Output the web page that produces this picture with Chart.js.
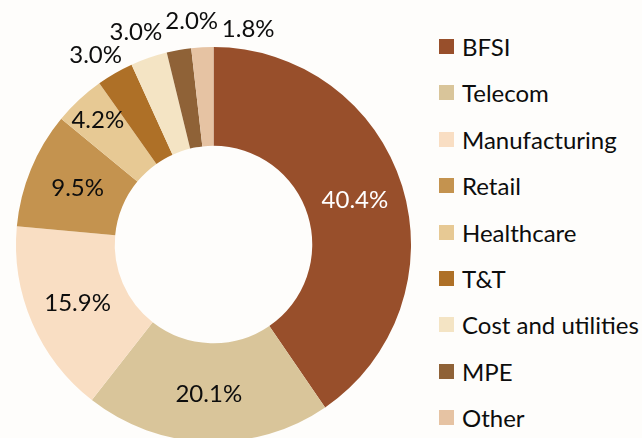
<!DOCTYPE html>
<html>
<head>
<meta charset="utf-8">
<script src="https://cdn.jsdelivr.net/npm/chart.js@4"></script>
<style>
  html, body { margin: 0; padding: 0; width: 642px; height: 438px; overflow: hidden; background: #fefdfb; }
  #sector-chart { position: absolute; left: 0; top: 0; }
  #legend { position: absolute; left: 439px; top: 0; font-family: Lato, "Open Sans", sans-serif; font-size: 24px; color: #0d0d0d; }
  .item { position: absolute; left: 0; height: 24px; display: flex; align-items: center; white-space: nowrap; }
  .box { width: 15px; height: 15px; margin-right: 8px; }
</style>
</head>
<body>
<canvas id="sector-chart" width="420" height="460"></canvas>
<div id="legend"></div>
<script>
const sectors = ['BFSI', 'Telecom', 'Manufacturing', 'Retail', 'Healthcare', 'T&T', 'Cost and utilities', 'MPE', 'Other'];
const shares = [40.4, 20.1, 15.9, 9.5, 4.2, 3.0, 3.0, 2.0, 1.8];
const sectorColors = ['#984f2b', '#d9c59a', '#f9dec3', '#c4934f', '#e7c994', '#ae7027', '#f4e4c4', '#8f6237', '#e6c3a3'];
const labelColors = ['#ffffff', '#0d0d0d', '#0d0d0d', '#0d0d0d', '#0d0d0d', '#0d0d0d', '#0d0d0d', '#0d0d0d', '#0d0d0d'];

// where each percentage sits: distance from centre and angle nudge (degrees)
const labelPlace = [
  { r: 148, da: 0 }, { r: 150, da: 0 }, { r: 148, da: 0 }, { r: 147, da: 0 },
  { r: 170, da: 0 }, { r: 223, da: -2 }, { r: 226, da: -1 }, { r: 224, da: 4.5 }, { r: 218, da: 12.4 }
];

const pctLabels = {
  id: 'pctLabels',
  afterDatasetsDraw(chart) {
    const ctx = chart.ctx;
    const meta = chart.getDatasetMeta(0);
    ctx.save();
    ctx.font = '24px Lato, "Open Sans", sans-serif';
    ctx.textAlign = 'center';
    ctx.textBaseline = 'middle';
    meta.data.forEach((arc, i) => {
      const p = arc.getProps(['x', 'y', 'startAngle', 'endAngle']);
      const a = (p.startAngle + p.endAngle) / 2 + labelPlace[i].da * Math.PI / 180;
      const r = labelPlace[i].r;
      ctx.fillStyle = labelColors[i];
      ctx.fillText(shares[i].toFixed(1) + '%', p.x + Math.cos(a) * r, p.y + Math.sin(a) * r);
    });
    ctx.restore();
  }
};

new Chart(document.querySelector('#sector-chart'), {
  type: 'doughnut',
  data: {
    labels: sectors,
    datasets: [{
      data: shares,
      backgroundColor: sectorColors,
      borderWidth: 0,
      hoverOffset: 0
    }]
  },
  options: {
    responsive: false,
    maintainAspectRatio: false,
    animation: false,
    cutout: '50%',
    layout: { padding: { left: 16, right: 9, top: 47, bottom: 18 } },
    plugins: {
      legend: { display: false },
      tooltip: { enabled: false }
    }
  },
  plugins: [pctLabels]
});

const legend = document.querySelector('#legend');
sectors.forEach((name, i) => {
  const row = document.createElement('div');
  row.className = 'item';
  row.style.top = (46.5 + i * 46.4 - 12) + 'px';
  const box = document.createElement('span');
  box.className = 'box';
  box.style.background = sectorColors[i];
  const txt = document.createElement('span');
  txt.textContent = name;
  row.appendChild(box);
  row.appendChild(txt);
  legend.appendChild(row);
});
</script>
</body>
</html>
